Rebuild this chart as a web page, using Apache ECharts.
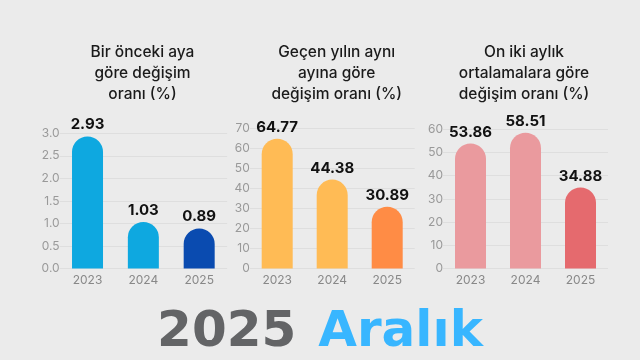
<!DOCTYPE html>
<html><head><meta charset="utf-8">
<script src="https://cdn.jsdelivr.net/npm/echarts@6/dist/echarts.min.js"></script>
<style>html,body{margin:0;padding:0;background:#ebebeb;}#c{width:640px;height:360px;}</style>
</head><body><div id="c"></div>
<script>
var years = ['2023', '2024', '2025'];
var titles = ['Bir önceki aya\ngöre değişim\noranı (%)', 'Geçen yılın aynı\nayına göre\ndeğişim oranı (%)', 'On iki aylık\nortalamalara göre\ndeğişim oranı (%)'];
var monthly = [2.93, 1.03, 0.89];
var yearly = [64.77, 44.38, 30.89];
var twelveMonth = [53.86, 58.51, 34.88];
var yMax = [3, 70, 60];
var yInterval = [0.5, 10, 10];
var colors = [
  ['#0ea8e0', '#0ea8e0', '#0a4bb0'],
  ['#ffbb55', '#ffbb55', '#ff8c45'],
  ['#ea9a9e', '#ea9a9e', '#e56a6e']
];
var headline = '2025';
var headlineMonth = 'Aralık';

var font = 'Inter, "Noto Sans", sans-serif';
var grids = [
  {left: 59.6, width: 167.5, top: 133.3, bottom: 91.5},
  {left: 249.7, width: 165, top: 128.3, bottom: 91.5},
  {left: 443, width: 165, top: 129.3, bottom: 91.5}
];
var titleX = [137.5, 331.7, 519];
var allData = [monthly, yearly, twelveMonth];

var option = {
  backgroundColor: '#ebebeb',
  animation: false,
  title: titles.map(function (t, i) {
    return {text: t, left: titleX[i], top: 37, textAlign: 'center',
      textStyle: {fontFamily: font, fontSize: 15.5, fontWeight: 500, color: '#1a1a1a', lineHeight: 21}};
  }).concat([{
    text: '{a|' + headline + '}{b|' + headlineMonth + '}',
    left: 'center', top: 300,
    textStyle: {rich: {
      a: {fontFamily: '"DejaVu Sans", sans-serif', fontSize: 50, fontWeight: 'bold', color: '#636466', lineHeight: 56},
      b: {fontFamily: '"DejaVu Sans", sans-serif', fontSize: 50, fontWeight: 'bold', color: '#38b6ff', lineHeight: 56, padding: [0, 0, 0, 22]}
    }}
  }]),
  grid: grids,
  xAxis: grids.map(function (g, i) {
    return {type: 'category', gridIndex: i, data: years,
      axisLine: {show: false}, axisTick: {show: false},
      axisLabel: {color: '#888', fontFamily: font, fontSize: 12, margin: 6}};
  }),
  yAxis: grids.map(function (g, i) {
    return {type: 'value', gridIndex: i, min: 0, max: yMax[i], interval: yInterval[i],
      axisLine: {show: false}, axisTick: {show: false},
      splitLine: {lineStyle: {color: '#dedede', width: 1}},
      axisLabel: {color: '#999', fontFamily: font, fontSize: 12, margin: 0,
        formatter: function (v) { return i === 0 ? v.toFixed(1) : String(v); }}};
  }),
  series: allData.map(function (d, i) {
    return {type: 'bar', xAxisIndex: i, yAxisIndex: i, barWidth: 31,
      data: d.map(function (v, j) { return {value: v, itemStyle: {color: colors[i][j]}}; }),
      itemStyle: {borderRadius: [16, 16, 0, 0]},
      label: {show: true, position: 'top', distance: 4, color: '#111', fontFamily: font,
        fontSize: 15, fontWeight: 'bold', formatter: function (p) { return p.value.toFixed(2); }}};
  })
};
echarts.init(document.getElementById('c')).setOption(option);
</script></body></html>
